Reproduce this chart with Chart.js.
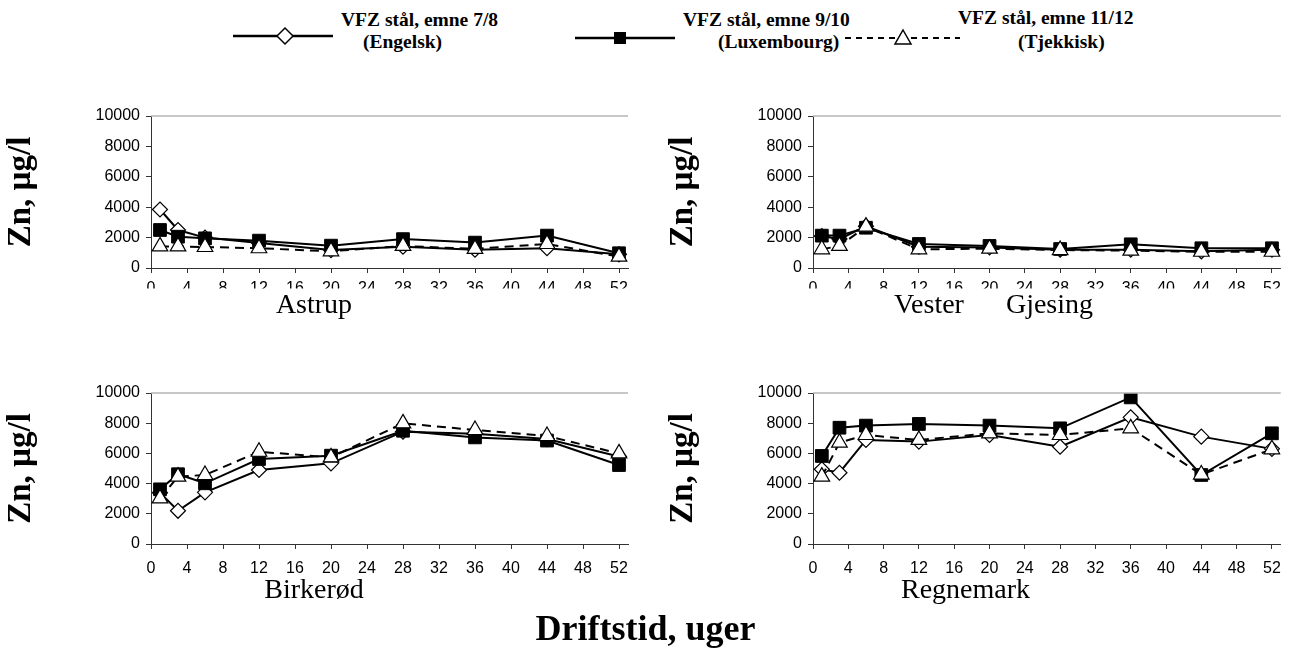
<!DOCTYPE html>
<html>
<head>
<meta charset="utf-8">
<script src="https://cdn.jsdelivr.net/npm/chart.js@4.4.1/dist/chart.umd.min.js"></script>
<style>
  body { margin: 0; background: #fff; width: 1291px; height: 661px; position: relative; overflow: hidden; font-family: "Liberation Serif", "Times New Roman", serif; }
  canvas { position: absolute; }
  .lg { position: absolute; font-weight: bold; font-size: 19.5px; line-height: 23px; white-space: nowrap; color: #000; }
  .mk { position: absolute; }
  #xtitle { position: absolute; left: 0; width: 1291px; top: 606px; line-height: 44px; text-align: center; font-weight: bold; font-size: 36px; }
</style>
</head>
<body>

<!-- legend -->
<svg class="mk" style="left:233px;top:26px" width="100" height="20">
  <line x1="0" y1="10" x2="100" y2="10" stroke="#000" stroke-width="2.5"/>
  <polygon points="44,10 52,2 60,10 52,18" fill="#fff" stroke="#000" stroke-width="1.5"/>
</svg>
<div class="lg" style="left:341px;top:8px">VFZ stål, emne 7/8</div>
<div class="lg" style="left:363px;top:30px">(Engelsk)</div>

<svg class="mk" style="left:575px;top:28px" width="100" height="20">
  <line x1="0" y1="10" x2="100" y2="10" stroke="#000" stroke-width="2.5"/>
  <rect x="39" y="4" width="12" height="12" fill="#000"/>
</svg>
<div class="lg" style="left:683px;top:8px">VFZ stål, emne 9/10</div>
<div class="lg" style="left:718px;top:30px">(Luxembourg)</div>

<svg class="mk" style="left:845px;top:28px" width="115" height="20">
  <line x1="0" y1="10" x2="115" y2="10" stroke="#000" stroke-width="2" stroke-dasharray="6,5"/>
  <polygon points="58,2 66,16 50,16" fill="#fff" stroke="#000" stroke-width="1.5"/>
</svg>
<div class="lg" style="left:958px;top:6px">VFZ stål, emne 11/12</div>
<div class="lg" style="left:1018px;top:30px">(Tjekkisk)</div>

<canvas id="c1" width="640" height="240" style="left:0px;top:90px"></canvas>
<canvas id="c2" width="629" height="240" style="left:662px;top:90px"></canvas>
<canvas id="c3" width="640" height="240" style="left:0px;top:370px"></canvas>
<canvas id="c4" width="629" height="240" style="left:662px;top:370px"></canvas>

<div id="xtitle">Driftstid, uger</div>

<script>
// sampling weeks
const weeks = [1, 3, 6, 12, 20, 28, 36, 44, 52];
const seriesNames = ['VFZ stål, emne 7/8 (Engelsk)', 'VFZ stål, emne 9/10 (Luxembourg)', 'VFZ stål, emne 11/12 (Tjekkisk)'];
const xTicks = [0, 4, 8, 12, 16, 20, 24, 28, 32, 36, 40, 44, 48, 52];
const yTicks = [0, 2000, 4000, 6000, 8000, 10000];

// Zn, µg/l per site
const astrupEng = [3850, 2500, 2000, 1650, 1180, 1400, 1200, 1300, 900];
const astrupLux = [2500, 2060, 1950, 1800, 1470, 1900, 1670, 2130, 970];
const astrupTjk = [1420, 1420, 1380, 1300, 1100, 1450, 1260, 1580, 750];

const vesterEng = [2100, 1900, 2750, 1400, 1350, 1200, 1200, 1100, 1200];
const vesterLux = [2130, 2130, 2650, 1580, 1450, 1250, 1560, 1300, 1300];
const vesterTjk = [1230, 1450, 2720, 1230, 1270, 1180, 1140, 1070, 1070];

const birkeEng = [3400, 2200, 3420, 4900, 5340, 7440, 7300, 6950, 5800];
const birkeLux = [3620, 4620, 4020, 5630, 5850, 7500, 7060, 6850, 5230];
const birkeTjk = [3020, 4460, 4570, 6110, 5740, 7990, 7550, 7150, 6000];

const regneEng = [4950, 4720, 6890, 6780, 7220, 6440, 8390, 7110, 6300];
const regneLux = [5830, 7700, 7840, 7950, 7840, 7660, 9710, 4570, 7330];
const regneTjk = [4460, 6710, 7220, 6890, 7330, 7220, 7660, 4600, 6270];

const pts = vals => weeks.map((w, i) => ({ x: w, y: vals[i] }));

const TITLE_SIZE = 28;

// gray top border of the plot area
const topBorder = {
    id: 'topBorder',
    afterDraw(chart) {
        const a = chart.chartArea, ctx = chart.ctx;
        ctx.save();
        ctx.strokeStyle = '#b4b4b4';
        ctx.lineWidth = 1.5;
        ctx.beginPath();
        ctx.moveTo(a.left, a.top);
        ctx.lineTo(a.right, a.top);
        ctx.stroke();
        ctx.restore();
    }
};

function makeChart(id, title, eng, lux, tjk, top, titlePad, tickPad, plotH) {
    const ctx = document.getElementById(id).getContext('2d');
    const rightPad = (id === 'c1' || id === 'c3') ? 12 : 1;
    return new Chart(ctx, {
        type: 'line',
        data: {
            datasets: [
                { label: seriesNames[0], data: pts(eng), borderColor: '#000', borderWidth: 2,
                  pointStyle: 'rectRot', pointRadius: 7.5, pointBackgroundColor: '#fff', pointBorderColor: '#000', pointBorderWidth: 1.2, order: 3 },
                { label: seriesNames[1], data: pts(lux), borderColor: '#000', borderWidth: 2,
                  pointStyle: 'rect', pointRadius: 9, pointBackgroundColor: '#000', pointBorderColor: '#000', pointBorderWidth: 1, order: 2 },
                { label: seriesNames[2], data: pts(tjk), borderColor: '#000', borderWidth: 2, borderDash: [9, 6],
                  pointStyle: 'triangle', pointRadius: 9, pointBackgroundColor: '#fff', pointBorderColor: '#000', pointBorderWidth: 1.2, order: 1 }
            ]
        },
        options: {
            responsive: false,
            animation: false,
            layout: { padding: { top: top, right: rightPad, left: 0, bottom: 0 } },
            plugins: {
                legend: { display: false },
                tooltip: { enabled: false },
                title: {
                    display: true, text: title, position: 'bottom', color: '#000',
                    font: { family: '"Liberation Serif", "Times New Roman", serif', size: TITLE_SIZE, weight: 'normal' },
                    padding: { top: 0, bottom: titlePad }
                }
            },
            scales: {
                x: {
                    type: 'linear', min: 0, max: 53,
                    afterBuildTicks: s => { s.ticks = xTicks.map(v => ({ value: v })); },
                    afterFit: s => { s.height = 240 - top - plotH - (1.2 * TITLE_SIZE + titlePad); },
                    ticks: { color: '#000', autoSkip: false, maxRotation: 0, padding: tickPad,
                             font: { family: '"Liberation Sans", Arial, sans-serif', size: 16 } },
                    grid: { display: true, drawOnChartArea: false, drawTicks: true, tickLength: 5, color: '#333' },
                    border: { display: true, color: '#333', width: 1 }
                },
                y: {
                    min: 0, max: 10000,
                    afterBuildTicks: s => { s.ticks = yTicks.map(v => ({ value: v })); },
                    afterFit: s => { s.width = 151; },
                    ticks: { color: '#000', padding: 6, callback: v => String(v),
                             font: { family: '"Liberation Sans", Arial, sans-serif', size: 16 } },
                    grid: { display: true, drawOnChartArea: false, drawTicks: true, tickLength: 5, color: '#333' },
                    border: { display: true, color: '#333', width: 1 },
                    title: { display: true, text: 'Zn, µg/l', color: '#000', padding: { top: 2, bottom: 0 },
                             font: { family: '"Liberation Serif", "Times New Roman", serif', size: 33, weight: 'bold' } }
                }
            }
        },
        plugins: [topBorder]
    });
}

makeChart('c1', 'Astrup', astrupEng, astrupLux, astrupTjk, 26, 8, 6, 152);
makeChart('c2', '     Vester      Gjesing', vesterEng, vesterLux, vesterTjk, 26, 8, 6, 152);
makeChart('c3', 'Birkerød', birkeEng, birkeLux, birkeTjk, 23, 3, 10, 151);
makeChart('c4', 'Regnemark   ', regneEng, regneLux, regneTjk, 23, 3, 10, 151);
</script>
</body>
</html>
